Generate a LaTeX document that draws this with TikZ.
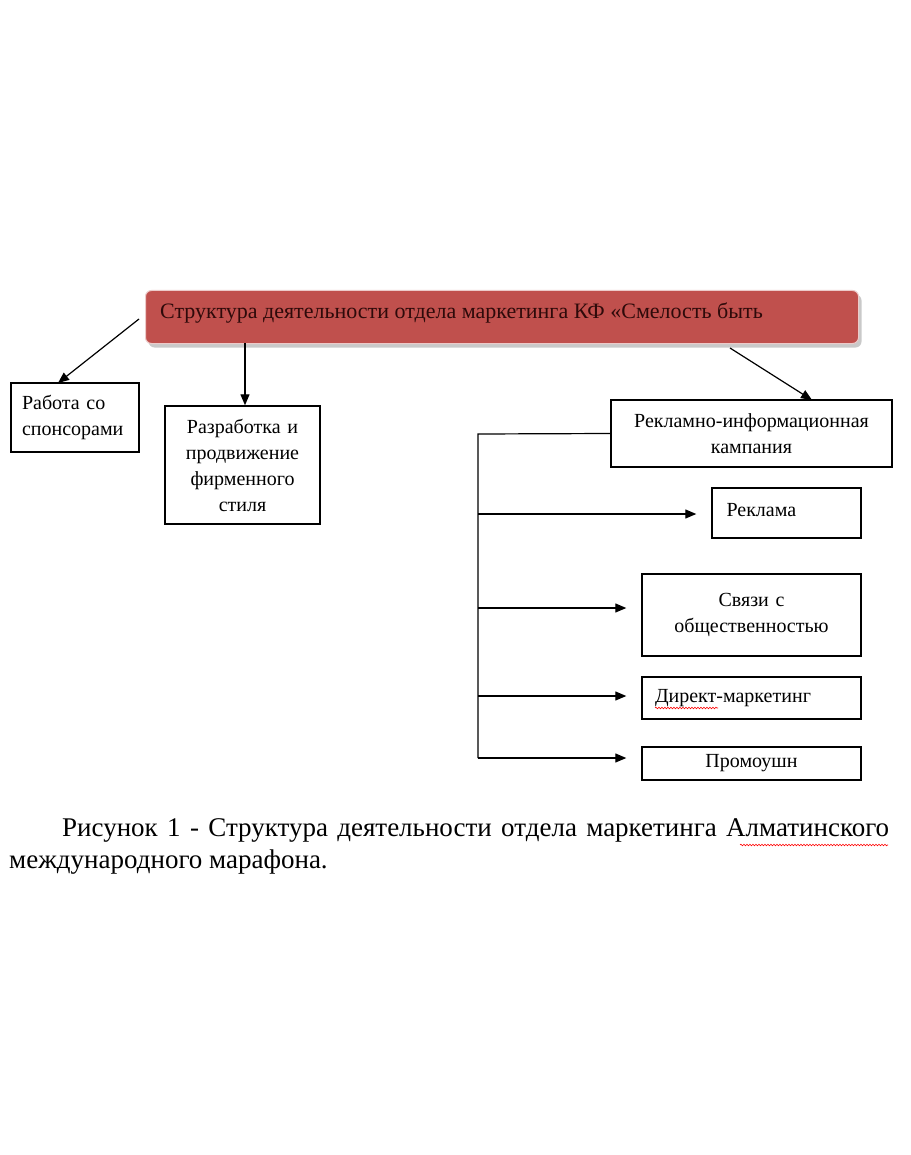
\documentclass[tikz,border=0pt]{standalone}
\usepackage{fontspec}
\setmainfont{Liberation Serif}
\usetikzlibrary{arrows.meta,shadows,decorations.pathmorphing}
\definecolor{titlered}{HTML}{C0504D}
\definecolor{titletext}{HTML}{2E0A0A}
\tikzset{
  box/.style={draw=black, line width=1.4pt, fill=white, inner sep=0pt, font=\fontsize{20}{26}\selectfont},
  arr/.style={-{Triangle[length=11pt,width=9pt]}, line width=1.2pt},
  ln/.style={line width=1.2pt},
  wavy/.style={draw=red, line width=0.6pt, decorate, decoration={snake, amplitude=0.8pt, segment length=3pt}},
}
\begin{document}
\begin{tikzpicture}[x=1pt,y=-1pt]
\useasboundingbox (0,0) rectangle (910,1155);
\fill[white] (0,0) rectangle (910,1155);
% title
\node[draw=white!70!titlered, line width=1pt, fill=titlered, rounded corners=6pt,
      drop shadow={shadow xshift=3pt, shadow yshift=-4pt, fill=black!35, opacity=0.6},
      minimum width=713pt, minimum height=53pt, anchor=north west, inner sep=0pt] (title) at (145,290) {};
\node[anchor=west, text=titletext, font=\fontsize{22}{24}\selectfont, inner sep=0pt] (titletxt) at (160,313)
  {Структура деятельности отдела маркетинга КФ «Смелость быть};
% left boxes
\node[box, minimum width=128pt, minimum height=69pt, text width=110pt, align=left] (spons) at (75,417.5)
  {\hspace*{2pt}Работа со\\\hspace*{2pt}спонсорами};
\node[box, minimum width=155pt, minimum height=118pt, text width=150pt, align=center] (style) at (242.5,465)
  {Разработка и\\продвижение\\фирменного\\стиля};
% right boxes
\node[box, minimum width=281pt, minimum height=67pt, text width=275pt, align=center] (rik) at (751.5,433.5)
  {Рекламно-информационная\\кампания};
\node[box, minimum width=149pt, minimum height=50pt, text width=120pt, align=left] (rek) at (786.5,513)
  {\raisebox{6pt}{Реклама}};
\node[box, minimum width=219pt, minimum height=82pt, text width=215pt, align=center] (svz) at (751.5,615)
  {\raisebox{5pt}{\parbox{215pt}{\centering Связи с\\общественностью}}};
\node[box, minimum width=219pt, minimum height=42pt, text width=193pt, align=left] (dir) at (751.5,698)
  {\raisebox{5pt}{Директ-маркетинг}};
\node[box, minimum width=219pt, minimum height=33pt, text width=215pt, align=center] (promo) at (751.5,763.5)
  {Промоушн};
% connectors from title
\coordinate (t1) at (139,319);
\coordinate (t2) at (245,343);
\coordinate (t3) at (730,348);
\coordinate (s1) at (58,383);
\coordinate (s3) at (812,400);
\draw[arr] (t1) -- (s1);
\draw[arr] (t2) -- (t2 |- style.north);
\draw[arr] (t3) -- (s3);
% bracket
\coordinate (bt) at (478,434);
\coordinate (bb) at (478,758);
\draw[ln] (rik.west) -- (bt) -- (bb);
\coordinate (b1) at (478,514);
\coordinate (b2) at (478,608);
\coordinate (b3) at (478,696);
\draw[arr, shorten >=15pt] (b1) -- (b1 -| rek.west);
\draw[arr, shorten >=15pt] (b2) -- (b2 -| svz.west);
\draw[arr, shorten >=15pt] (b3) -- (b3 -| dir.west);
\draw[arr, shorten >=15pt] (bb) -- (bb -| promo.west);
% spell-check underline
\draw[wavy] (655,708) -- (718,708);
% caption
\node[anchor=west, inner sep=0pt, font=\fontsize{27}{32}\selectfont] (cap1) at (62,830)
  {\hbox to 827pt{Рисунок\hfill 1\hfill -\hfill Структура\hfill деятельности\hfill отдела\hfill маркетинга\hfill Алматинского}};
\node[anchor=west, inner sep=0pt, font=\fontsize{27}{32}\selectfont] (cap2) at (9,862)
  {международного марафона.};
\draw[wavy] (740,845) -- (888,845);
\end{tikzpicture}
\end{document}
